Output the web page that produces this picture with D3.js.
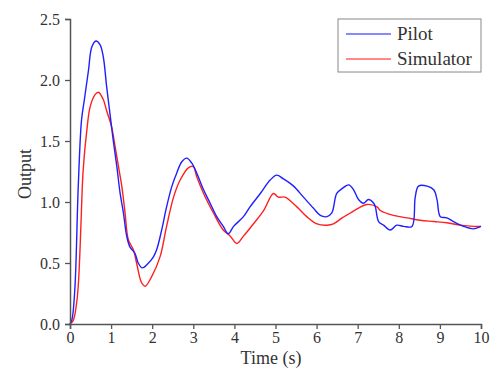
<!DOCTYPE html>
<html>
<head>
<meta charset="utf-8">
<script src="https://cdn.jsdelivr.net/npm/d3@7"></script>
<style>
  body { margin: 0; background: #fff; }
  svg text { font-family: "Liberation Serif", "Times New Roman", serif; fill: #333; }
</style>
</head>
<body>
<div id="chart"></div>
<script>
// pilot response (blue)
const pilotTime = [0, 0.05, 0.12, 0.2, 0.28, 0.35, 0.45, 0.53, 0.63, 0.73, 0.81, 0.89, 0.97, 1.05, 1.14, 1.22, 1.30, 1.38, 1.46, 1.58, 1.66, 1.76, 1.91, 2.03, 2.11, 2.23, 2.35, 2.48, 2.60, 2.72, 2.84, 2.96, 3.08, 3.25, 3.41, 3.57, 3.73, 3.85, 3.98, 4.22, 4.38, 4.63, 4.87, 5.03, 5.19, 5.44, 5.68, 5.92, 6.09, 6.25, 6.37, 6.49, 6.62, 6.78, 6.90, 7.02, 7.14, 7.26, 7.39, 7.43, 7.51, 7.63, 7.79, 7.95, 8.12, 8.32, 8.40, 8.48, 8.69, 8.85, 8.93, 9.01, 9.17, 9.33, 9.58, 9.82, 10];
const pilotOutput = [0, 0.04, 0.30, 1.12, 1.67, 1.84, 2.08, 2.27, 2.32, 2.29, 2.19, 1.95, 1.73, 1.51, 1.29, 1.07, 0.91, 0.72, 0.63, 0.58, 0.50, 0.46, 0.50, 0.55, 0.61, 0.77, 0.96, 1.13, 1.24, 1.33, 1.36, 1.32, 1.24, 1.10, 0.99, 0.88, 0.80, 0.74, 0.80, 0.88, 0.96, 1.07, 1.18, 1.22, 1.19, 1.13, 1.04, 0.95, 0.89, 0.88, 0.91, 1.07, 1.11, 1.14, 1.10, 1.02, 0.99, 1.02, 0.99, 0.96, 0.84, 0.81, 0.77, 0.81, 0.80, 0.80, 1.04, 1.13, 1.13, 1.10, 1.02, 0.88, 0.87, 0.84, 0.80, 0.78, 0.80];

// simulator response (red)
const simTime = [0, 0.08, 0.16, 0.2, 0.24, 0.27, 0.32, 0.41, 0.49, 0.61, 0.69, 0.81, 0.89, 1.01, 1.10, 1.18, 1.26, 1.34, 1.42, 1.54, 1.62, 1.74, 1.83, 1.99, 2.19, 2.35, 2.52, 2.68, 2.88, 3.0, 3.08, 3.25, 3.49, 3.73, 3.90, 4.06, 4.22, 4.46, 4.71, 4.95, 5.07, 5.23, 5.52, 5.76, 6.01, 6.25, 6.41, 6.62, 6.82, 7.02, 7.22, 7.47, 7.55, 7.87, 8.20, 8.52, 8.85, 9.17, 9.50, 9.82, 10];
const simOutput = [0, 0.03, 0.17, 0.31, 0.58, 0.85, 1.26, 1.59, 1.78, 1.88, 1.90, 1.84, 1.75, 1.62, 1.45, 1.29, 1.13, 0.91, 0.69, 0.61, 0.50, 0.34, 0.31, 0.39, 0.55, 0.80, 1.04, 1.18, 1.28, 1.29, 1.21, 1.07, 0.91, 0.77, 0.72, 0.66, 0.72, 0.82, 0.93, 1.07, 1.04, 1.04, 0.96, 0.88, 0.82, 0.81, 0.82, 0.87, 0.91, 0.95, 0.98, 0.96, 0.93, 0.89, 0.87, 0.85, 0.84, 0.83, 0.81, 0.80, 0.80];

const xTicks = [0, 1, 2, 3, 4, 5, 6, 7, 8, 9, 10];
const yTicks = [0, 0.5, 1.0, 1.5, 2.0, 2.5];
const seriesNames = ['Pilot', 'Simulator'];
const seriesColors = ['#1f1fff', '#ff1f1f'];

const W = 496, H = 369;
const margin = { top: 19, right: 15, bottom: 45, left: 70 };
const width = W - margin.left - margin.right,
  height = H - margin.top - margin.bottom;

const svg = d3.select('#chart')
  .append('svg')
  .attr('width', W)
  .attr('height', H);

const g = svg.append('g')
  .attr('transform', `translate(${margin.left}, ${margin.top})`);

//scales
const x = d3.scaleLinear().domain([0, 10]).range([0, width]);
const y = d3.scaleLinear().domain([0, 2.5]).range([height, 0]);

const line = d3.line()
  .curve(d3.curveCatmullRom.alpha(0.5))
  .x((d) => x(d[0]))
  .y((d) => y(d[1]));

const pilot = pilotTime.map((t, i) => [t, pilotOutput[i]]);
const sim = simTime.map((t, i) => [t, simOutput[i]]);

// draw simulator first, pilot on top
g.append('path')
  .datum(sim)
  .attr('fill', 'none')
  .attr('stroke', seriesColors[1])
  .attr('stroke-width', 1.4)
  .attr('stroke-linejoin', 'round')
  .attr('d', line);

g.append('path')
  .datum(pilot)
  .attr('fill', 'none')
  .attr('stroke', seriesColors[0])
  .attr('stroke-width', 1.4)
  .attr('stroke-linejoin', 'round')
  .attr('d', line);

//x axis
const xAxis = g.append('g')
  .attr('transform', `translate(0, ${height})`)
  .call(d3.axisBottom(x).tickValues(xTicks).tickFormat(d3.format('d')).tickSizeOuter(0).tickSize(5).tickPadding(3));

//y axis
const yAxis = g.append('g')
  .call(d3.axisLeft(y).tickValues(yTicks).tickFormat(d3.format('.1f')).tickSizeOuter(0).tickSize(5).tickPadding(5));

[xAxis, yAxis].forEach((a) => {
  a.select('.domain').attr('stroke', '#555').attr('stroke-width', 1.5);
  a.selectAll('.tick line').attr('stroke', '#555').attr('stroke-width', 1.3);
  a.selectAll('.tick text')
    .style('font-family', '"Liberation Serif", serif')
    .style('font-size', '16px')
    .attr('fill', '#333');
});

// axis titles
svg.append('text')
  .attr('x', 271)
  .attr('y', 364)
  .attr('text-anchor', 'middle')
  .style('font-size', '18px')
  .text('Time (s)');

svg.append('text')
  .attr('transform', 'rotate(-90)')
  .attr('x', -174)
  .attr('y', 31)
  .attr('text-anchor', 'middle')
  .style('font-size', '18px')
  .text('Output');

// legend
const legend = svg.append('g').attr('transform', 'translate(338, 19)');
legend.append('rect')
  .attr('width', 143)
  .attr('height', 53)
  .attr('fill', '#fff')
  .attr('stroke', '#888')
  .attr('stroke-width', 1);

seriesNames.forEach((name, i) => {
  const ly = 15 + i * 25;
  legend.append('line')
    .attr('x1', 8).attr('x2', 53)
    .attr('y1', ly).attr('y2', ly)
    .attr('stroke', seriesColors[i])
    .attr('stroke-opacity', 0.7)
    .attr('stroke-width', 1.5);
  legend.append('text')
    .attr('x', 59)
    .attr('y', ly + 6)
    .style('font-size', '19px')
    .text(name);
});
</script>
</body>
</html>
